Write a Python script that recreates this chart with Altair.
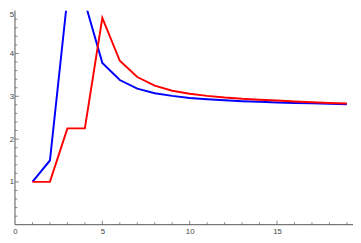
import altair as alt
import pandas as pd

# data
xs = list(range(1, 20))
red_vals = [1, 1, 2.25, 2.25, 4.83, 3.83, 3.45, 3.25, 3.13, 3.06, 3.01, 2.97,
            2.94, 2.92, 2.90, 2.88, 2.86, 2.845, 2.83]
blue_vals = [1, 1.5, 5.3, 5.2, 3.78, 3.38, 3.18, 3.07, 3.01, 2.96, 2.93, 2.905,
             2.885, 2.87, 2.855, 2.845, 2.835, 2.825, 2.815]

x_labels = [0, 5, 10, 15]
y_labels = [1, 2, 3, 4, 5]
x_major = [5, 10, 15]
x_minor = [i for i in range(1, 20) if i % 5 != 0]
y_major = [1, 2, 3, 4]
y_minor = [round(i * 0.2, 2) for i in range(1, 25) if i % 5 != 0]

X_MIN, X_MAX = -0.4, 19.35
Y_MIN, Y_MAX = 0, 5
W, H = 353, 219

AX = "#555555"
LAB = "#444444"

df = pd.DataFrame({
    "x": xs * 2,
    "y": red_vals + blue_vals,
    "s": ["red"] * len(xs) + ["blue"] * len(xs),
})

xscale = alt.Scale(domain=[X_MIN, X_MAX], nice=False, zero=False)
yscale = alt.Scale(domain=[Y_MIN, Y_MAX], nice=False, zero=False)

y_off = -(0 - X_MIN) / (X_MAX - X_MIN) * W

xaxis = alt.Axis(values=x_labels, ticks=False, grid=False, title=None, domain=False,
                 labelColor=LAB, labelFontSize=8,
                 labelFont="Liberation Sans", labelPadding=3, labelFlush=False)
yaxis = alt.Axis(values=y_labels, ticks=False, grid=False, title=None, domain=False,
                 labelColor=LAB, labelFontSize=8, offset=y_off,
                 labelFont="Liberation Sans", labelPadding=1.5, labelFlush=True)

blue = alt.Chart(df[df.s == "blue"]).mark_line(color="#0000ff", strokeWidth=2, clip=True).encode(
    x=alt.X("x:Q", scale=xscale, axis=xaxis),
    y=alt.Y("y:Q", scale=yscale, axis=yaxis),
)
red = alt.Chart(df[df.s == "red"]).mark_line(color="#ff0000", strokeWidth=2, clip=True).encode(
    x=alt.X("x:Q", scale=xscale, axis=xaxis),
    y=alt.Y("y:Q", scale=yscale, axis=yaxis),
)

xline = alt.Chart(pd.DataFrame({"a": [0]})).mark_rule(color=AX, strokeWidth=1).encode(
    x=alt.datum(0, scale=xscale), x2=alt.datum(X_MAX), y=alt.datum(0))
yline = alt.Chart(pd.DataFrame({"a": [0]})).mark_rule(color=AX, strokeWidth=1).encode(
    x=alt.datum(0), y=alt.datum(0, scale=yscale), y2=alt.datum(Y_MAX))

xmaj = alt.Chart(pd.DataFrame({"t": x_major})).mark_tick(
    orient="vertical", size=4, thickness=1, yOffset=-2, color=AX).encode(
    x=alt.X("t:Q", scale=xscale), y=alt.datum(0))
xmin = alt.Chart(pd.DataFrame({"t": x_minor})).mark_tick(
    orient="vertical", size=2.5, thickness=1, yOffset=-1.25, color=AX).encode(
    x=alt.X("t:Q", scale=xscale), y=alt.datum(0))
ymaj = alt.Chart(pd.DataFrame({"t": y_major})).mark_tick(
    orient="horizontal", size=4, thickness=1, xOffset=2, color=AX).encode(
    y=alt.Y("t:Q", scale=yscale), x=alt.datum(0))
ymin = alt.Chart(pd.DataFrame({"t": y_minor})).mark_tick(
    orient="horizontal", size=2.5, thickness=1, xOffset=1.25, color=AX).encode(
    y=alt.Y("t:Q", scale=yscale), x=alt.datum(0))

chart = alt.layer(xmin, xmaj, ymin, ymaj, xline, yline, blue, red).properties(
    width=W, height=H,
    autosize=alt.AutoSizeParams(type="none"),
    padding={"left": 0, "top": 0, "right": 0, "bottom": 16},
    background="white",
).configure_view(stroke=None)

chart.save("out.html", embed_options={"renderer": "svg", "actions": False})
